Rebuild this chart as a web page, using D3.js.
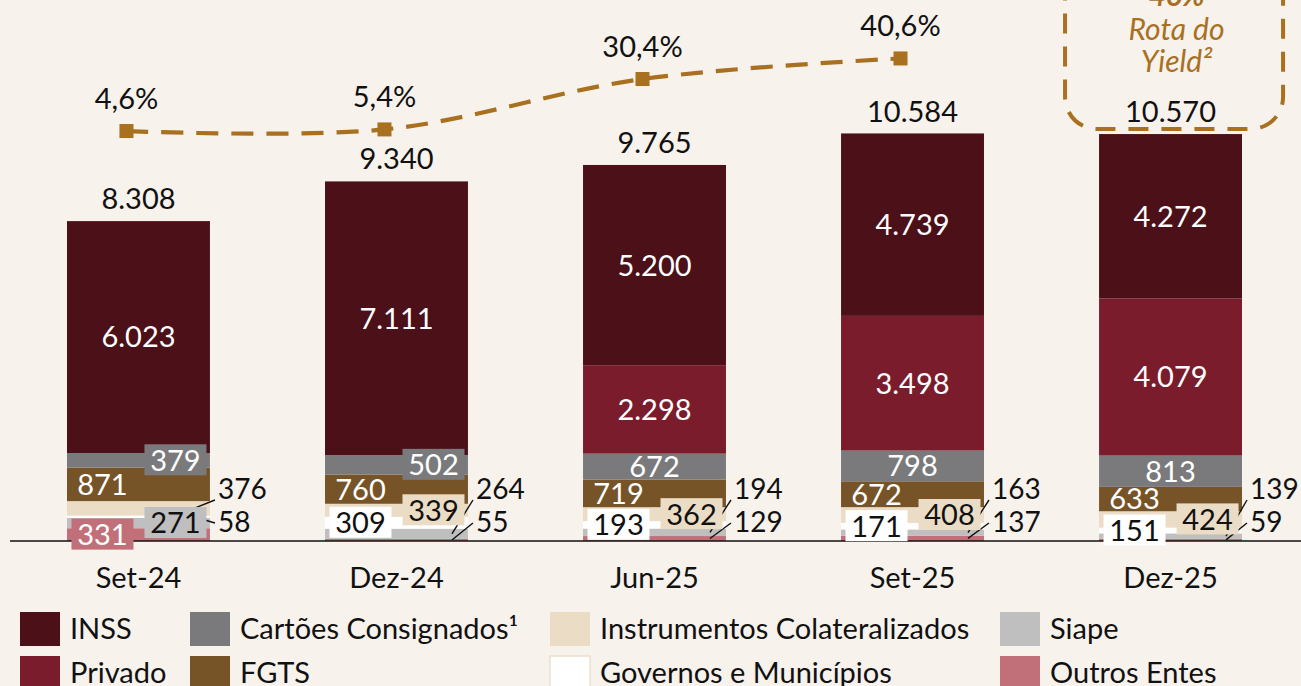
<!DOCTYPE html>
<html lang="pt">
<head>
  <meta charset="utf-8" />
  <title>Carteira consignado</title>
  <script src="https://unpkg.com/d3@7.9.0/dist/d3.min.js"></script>
  <style>
    html,body{margin:0;padding:0;width:100%;height:100%;background:#f7f2ec;overflow:hidden;}
    #svg{width:1301px;height:686px;display:block;font-family:Lato,sans-serif;}
  </style>
</head>
<body>
<svg id="svg"></svg>
<script>
// ----- dados -----
const categories = ['Set-24','Dez-24','Jun-25','Set-25','Dez-25'];
const inss         = [6023, 7111, 5200, 4739, 4272];
const privado      = [0, 0, 2298, 3498, 4079];
const cartoes      = [379, 502, 672, 798, 813];
const fgts         = [871, 760, 719, 672, 633];
const instrumentos = [376, 339, 362, 408, 424];
const governos     = [58, 309, 193, 171, 151];
const siape        = [271, 264, 194, 163, 139];
const outros       = [331, 55, 129, 137, 59];
const totals       = [8308, 9340, 9765, 10584, 10570];
const yieldPct     = [4.6, 5.4, 30.4, 40.6];
const yieldLabels  = ['4,6%','5,4%','30,4%','40,6%'];
const targetLabel  = ['46%','Rota do','Yield²'];

// ordem de empilhamento (de baixo para cima)
const series = [
  {key:'outros',  name:'Outros Entes',               values:outros,       color:'#c1707a'},
  {key:'siape',   name:'Siape',                      values:siape,        color:'#bfbfbf'},
  {key:'gov',     name:'Governos e Municípios',      values:governos,     color:'#ffffff'},
  {key:'instr',   name:'Instrumentos Colateralizados',values:instrumentos,color:'#ebdcc6'},
  {key:'fgts',    name:'FGTS',                       values:fgts,         color:'#775428'},
  {key:'cartoes', name:'Cartões Consignados¹',       values:cartoes,      color:'#7a7a7c'},
  {key:'privado', name:'Privado',                    values:privado,      color:'#7a1c2b'},
  {key:'inss',    name:'INSS',                       values:inss,         color:'#4b1018'}
];

// como cada rótulo é mostrado: c=centro, L/R=esquerda/direita, b=caixa, up/lo=fora da barra
const labelMode = {
  inss:    ['c','c','c','c','c'],
  privado: [null,null,'c','c','c'],
  cartoes: ['Rb','Rb','c','c','c'],
  fgts:    ['L','L','L','L','L'],
  instr:   ['up','Rb','Rb','Rb','Rb'],
  gov:     ['lo','Lb','Lb','Lb','Lb'],
  siape:   ['Rb','up','up','up','up'],
  outros:  ['Lb','lo','lo','lo','lo']
};
const darkText = {instr:true, gov:true, siape:true};

const W = 1301, H = 686;
const gold = '#a8701f';
const svg = d3.select('#svg').attr('viewBox', `0 0 ${W} ${H}`);
svg.append('rect').attr('width',W).attr('height',H).attr('fill','#f7f2ec');

const x = d3.scaleBand().domain(categories).range([67,1242]).paddingInner(0.446).paddingOuter(0);
const y = d3.scaleLinear().domain([0,14052]).range([541,0]);
const yL = d3.scaleLinear().domain([0,69.6]).range([140.3,0]);
const fmt = v => d3.format(',')(v).replace(/,/g,'.');

const rows = categories.map((c,i)=>{const o={cat:c}; series.forEach(s=>o[s.key]=s.values[i]); return o;});
const stack = d3.stack().keys(series.map(s=>s.key))(rows);

// barras
const gBars = svg.append('g');
stack.forEach((layer,li)=>{
  gBars.selectAll(null).data(layer).enter().append('rect')
    .attr('x',d=>x(d.data.cat))
    .attr('width',x.bandwidth())
    .attr('y',d=>y(d[1]))
    .attr('height',d=>y(d[0])-y(d[1]))
    .attr('fill',series[li].color);
});

// eixo
svg.append('line').attr('x1',10).attr('x2',1301).attr('y1',541).attr('y2',541)
  .attr('stroke','#111').attr('stroke-width',1.6);

// rótulos dos segmentos
const gLead = svg.append('g');
const gLab = svg.append('g');
const FS = 29;
stack.forEach((layer,li)=>{
  const s = series[li];
  layer.forEach((d,i)=>{
    const mode = labelMode[s.key][i];
    if(!mode) return;
    const v = s.values[i];
    const cx = x(d.data.cat)+x.bandwidth()/2;
    const right = x(d.data.cat)+x.bandwidth();
    const my = (y(d[0])+y(d[1]))/2;
    if(mode==='up' || mode==='lo'){
      const ly = mode==='up' ? 489 : 522;
      gLab.append('text').attr('x',right+8).attr('y',ly).attr('dy','0.35em')
        .attr('font-size',FS-1).attr('fill','#111').text(fmt(v));
      const sy = mode==='up' ? 500 : 523;
      gLead.append('line').attr('x1',right+5).attr('y1',sy).attr('x2',right-16).attr('y2',my)
        .attr('stroke','#111').attr('stroke-width',1.4);
      return;
    }
    let tx = cx;
    if(mode[0]==='L') tx = cx-36;
    if(mode[0]==='R') tx = cx+37;
    const fill = darkText[s.key] ? '#111' : '#fff';
    if(mode.endsWith('b')){
      gLab.append('rect').attr('x',tx-31).attr('y',my-16).attr('width',62).attr('height',31)
        .attr('fill',s.color);
    }
    gLab.append('text').attr('x',tx).attr('y',my).attr('dy','0.36em').attr('text-anchor','middle')
      .attr('font-size',FS).attr('fill',fill).text(fmt(v));
  });
});

// totais
svg.append('g').selectAll('text').data(categories).enter().append('text')
  .attr('x',d=>x(d)+x.bandwidth()/2).attr('y',(d,i)=>y(totals[i])-12)
  .attr('text-anchor','middle').attr('font-size',FS).attr('fill','#111')
  .text((d,i)=>fmt(totals[i]));

// categorias
svg.append('g').selectAll('text').data(categories).enter().append('text')
  .attr('x',d=>x(d)+x.bandwidth()/2).attr('y',588)
  .attr('text-anchor','middle').attr('font-size',FS).attr('fill','#111').text(d=>d);

// linha de yield
const px = i => x(categories[i])+x.bandwidth()/2-12;
const pts = yieldPct.map((v,i)=>[px(i), yL(v)]);
svg.append('path').attr('d',d3.line().curve(d3.curveCatmullRom.alpha(0.5))(pts))
  .attr('fill','none').attr('stroke',gold).attr('stroke-width',4.2).attr('stroke-dasharray','22 13');
svg.append('g').selectAll('rect').data(pts).enter().append('rect')
  .attr('x',d=>d[0]-7).attr('y',d=>d[1]-7).attr('width',14).attr('height',14).attr('fill',gold);
svg.append('g').selectAll('text').data(pts).enter().append('text')
  .attr('x',d=>d[0]).attr('y',d=>d[1]-22).attr('text-anchor','middle')
  .attr('font-size',FS).attr('fill','#111').text((d,i)=>yieldLabels[i]);

// caixa da meta
const bx = x('Dez-25');
svg.append('rect').attr('x',bx-34).attr('y',-40).attr('width',218).attr('height',169)
  .attr('rx',32).attr('fill','none').attr('stroke',gold).attr('stroke-width',4).attr('stroke-dasharray','20 13');
const tcx = bx+x.bandwidth()/2+6;
svg.append('text').attr('x',tcx).attr('y',6).attr('text-anchor','middle').attr('font-size',30)
  .attr('font-style','italic').attr('font-weight','bold').attr('fill',gold).text(targetLabel[0]);
svg.append('text').attr('x',tcx).attr('y',40).attr('text-anchor','middle').attr('font-size',30)
  .attr('font-style','italic').attr('fill',gold).text(targetLabel[1]);
svg.append('text').attr('x',tcx).attr('y',72).attr('text-anchor','middle').attr('font-size',30)
  .attr('font-style','italic').attr('fill',gold).text(targetLabel[2]);

// legenda
const legOrder = ['inss','cartoes','instr','siape','privado','fgts','gov','outros'];
const legX = [20,190,550,1000];
const legY = [612,656];
const gLeg = svg.append('g');
legOrder.forEach((k,i)=>{
  const s = series.find(t=>t.key===k);
  const lx = legX[i%4], ly = legY[Math.floor(i/4)];
  gLeg.append('rect').attr('x',lx).attr('y',ly).attr('width',40).attr('height',34)
    .attr('fill',s.color).attr('stroke',k==='gov'?'#ece0cc':'none').attr('stroke-width',1.5);
  gLeg.append('text').attr('x',lx+50).attr('y',ly+17).attr('dy','0.36em')
    .attr('font-size',FS).attr('fill','#111').text(s.name);
});
</script>
</body>
</html>
